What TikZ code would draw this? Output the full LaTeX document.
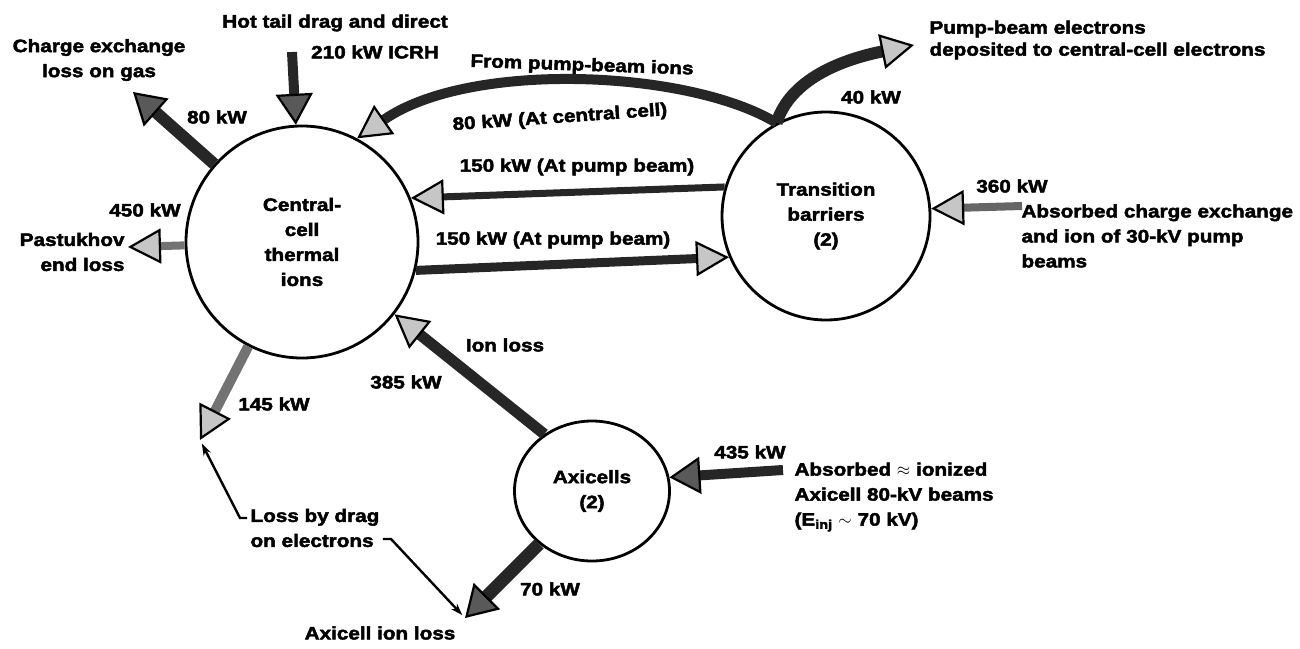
\documentclass[tikz,border=0pt]{standalone}
\usepackage{fontspec}
\setmainfont{Liberation Sans}[FakeStretch=1.15, BoldFeatures={FakeBold=2.5}]
\usetikzlibrary{arrows.meta,shapes.geometric}

\tikzset{
  cell/.style={circle, draw, line width=2.8pt, align=center, inner sep=0pt},
  flow/.style={draw=black!85, line width=#1, -{Triangle[length=33pt 0, width=35pt 0, line width=2.2pt 0, color=black, fill=gray!45]}},
  flow/.default=10pt,
  darkflow/.style={draw=black!85, line width=#1, -{Triangle[length=31pt 0, width=37pt 0, line width=2.2pt 0, color=black, fill=black!65]}},
  darkflow/.default=11pt,
  leader/.style={line width=2.4pt, -{Stealth[length=12pt 0, width=8pt 0]}, shorten >=4pt},
}

\begin{document}
\begin{tikzpicture}[x=1pt, y=-1pt, every node/.style={font=\bfseries\fontsize{18}{25}\selectfont}]
\useasboundingbox (0,0) rectangle (1300,648);

% cells
\node[cell, minimum size=232pt] (central) at (302,242) {Central-\\cell\\thermal\\ions};
\node[cell, minimum size=208pt] (barrier) at (826,216) {Transition\\barriers\\(2)};
\node[cell, ellipse, minimum width=155pt, minimum height=140pt] (axicell) at (592,491) {Axicells\\(2)};

% free ends
\coordinate (cxTip) at (133,92);
\coordinate (icrhTail) at (292,52);
\coordinate (pumpTip) at (914,45);
\coordinate (injTail) at (1022,206);
\coordinate (pastTip) at (128,247);
\coordinate (dragTip) at (200,440);
\coordinate (axTip) at (465,618);
\coordinate (axInTail) at (783,470);
\coordinate (dragKnee) at (240,518);
\coordinate (elecKnee) at (391,539);

% labels
\node[align=center] (cxLabel) at (99,60) {Charge exchange\\loss on gas};
\node (hotLabel) at (335,23) {Hot tail drag and direct};
\node (icrhLabel) at (375,52) {210 kW ICRH};
\node (cxPower) at (217,117) {80 kW};
\node[rotate=-2] (ionsLabel) at (582,66) {From pump-beam ions};
\node[rotate=4] (ccPower) at (560,118) {80 kW (At central cell)};
\node (pumpUpper) at (577,167) {150 kW (At pump beam)};
\node (pumpLower) at (553,240) {150 kW (At pump beam)};
\node[anchor=west, align=left, font=\bfseries\fontsize{18}{22}\selectfont] (depLabel) at (926,40) {Pump-beam electrons\\deposited to central-cell electrons};
\node (barrierPower) at (871,97) {40 kW};
\node (injPower) at (1012,186) {360 kW};
\node[anchor=west, align=left] (injLabel) at (1018,236) {Absorbed charge exchange\\and ion of 30-kV pump\\beams};
\node (pastPower) at (145,210) {450 kW};
\node[anchor=east, align=right] (pastLabel) at (128,252) {Pastukhov\\end loss};
\node (dragPower) at (274,404) {145 kW};
\node (ionPower) at (406,382) {385 kW};
\node (ionLoss) at (505,345) {Ion loss};
\node[anchor=west, align=left] (dragLabel) at (247,528) {Loss by drag\\on electrons};
\node (axLoss) at (380,633) {Axicell ion loss};
\node (axPower) at (550,589) {70 kW};
\node (axInPower) at (750,452) {435 kW};
\node[anchor=west, align=left] (axLabel) at (791,497) {Absorbed $\approx$ ionized\\Axicell 80-kV beams\\(E\textsubscript{inj} $\sim$ 70 kV)};

% power flows
\draw[darkflow=12pt] (central) -- (cxTip);
\draw[darkflow=10pt] (icrhTail) -- (central);
\draw[flow=10pt] (barrier.118) .. controls (690,70) and (470,60) .. (central.62);
\draw[flow=12pt] (barrier.118) .. controls (790,80) and (840,60) .. (pumpTip);
\draw[flow=7pt] (barrier.164) -- (central.22);
\draw[flow=9pt] (central.-14) -- (barrier.203);
\draw[flow=8pt, draw=black!60] (injTail) -- (barrier.4);
\draw[flow=8pt, draw=black!55] (central) -- (pastTip);
\draw[flow=10pt, draw=black!55] (central) -- (dragTip);
\draw[flow=11pt] (axicell.130) -- (central.-38);
\draw[darkflow=13pt] (axicell) -- (axTip);
\draw[darkflow=10pt] (axInTail) -- (axicell.10);

% leaders
\draw[leader] (dragLabel.west |- dragKnee) -- (dragKnee) -- (dragTip);
\draw[leader] (dragLabel.east |- elecKnee) -- (elecKnee) -- (axTip);
\end{tikzpicture}
\end{document}
